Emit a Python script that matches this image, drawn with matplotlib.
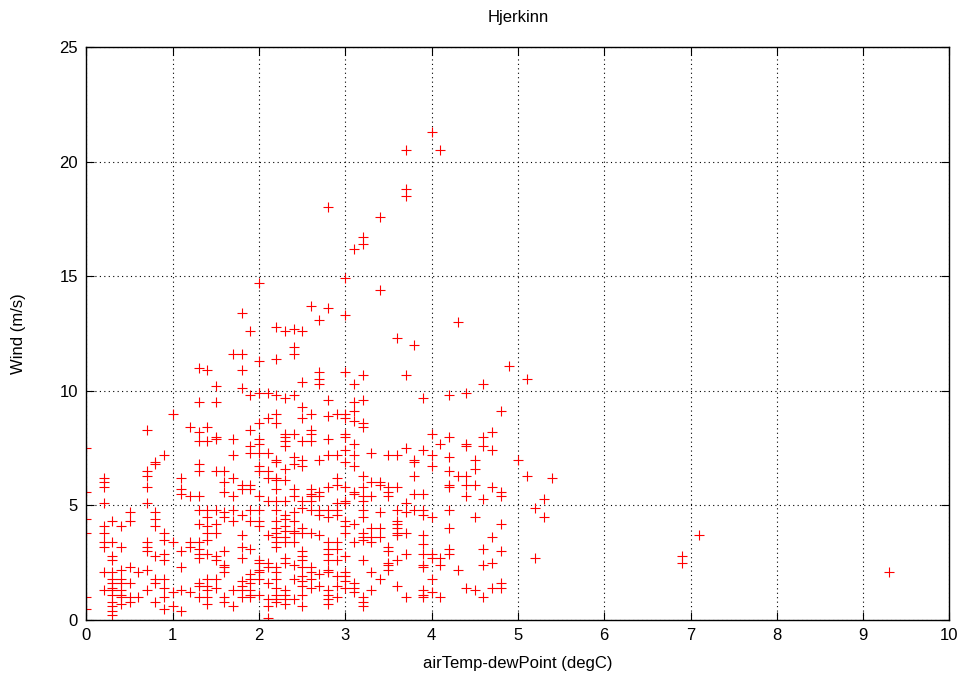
import matplotlib
matplotlib.use("Agg")
import matplotlib.pyplot as plt
import numpy as np

plt.rcParams['font.family'] = ['Liberation Sans', 'DejaVu Sans']

# x columns (airTemp-dewPoint, degC) and wind values (m/s) observed at each column
diff_cols = [0.0, 0.2, 0.3, 0.4, 0.5, 0.6, 0.7, 0.8, 0.9, 1.0,
             1.1, 1.2, 1.3, 1.4, 1.5, 1.6, 1.7, 1.8, 1.9, 2.0,
             2.1, 2.2, 2.3, 2.4, 2.5, 2.6, 2.7, 2.8, 2.9, 3.0,
             3.1, 3.2, 3.3, 3.4, 3.5, 3.6, 3.7, 3.8, 3.9, 4.0,
             4.1, 4.2, 4.3, 4.4, 4.5, 4.6, 4.7, 4.8, 4.9, 5.0,
             5.1, 5.2, 5.3, 5.4, 6.9, 7.1, 9.3]

wind_cols = [
    [7.5, 5.6, 4.4, 3.8, 1.0, 0.5],
    [6.2, 6.0, 5.8, 5.1, 4.1, 3.8, 3.4, 3.2, 2.1, 1.3],
    [4.3, 3.4, 2.8, 2.6, 2.1, 1.8, 1.6, 1.4, 1.3, 1.1, 0.8, 0.6, 0.4, 0.2],
    [4.1, 3.2, 2.2, 1.8, 1.6, 1.3, 1.1, 1.0, 0.7],
    [4.7, 4.3, 2.3, 1.6, 1.0, 0.8],
    [2.1, 1.0],
    [8.3, 6.5, 6.3, 5.8, 5.1, 3.4, 3.2, 3.0, 2.2, 1.3],
    [6.9, 6.8, 4.7, 4.4, 4.1, 2.8, 1.8, 1.6, 0.8],
    [7.2, 3.8, 3.5, 2.9, 2.6, 1.8, 1.4, 1.0, 0.5],
    [9.0, 3.4, 1.2, 0.6],
    [6.2, 5.7, 5.5, 3.0, 2.3, 1.3, 0.4],
    [8.4, 5.4, 3.4, 3.2, 1.2],
    [11.0, 9.5, 8.2, 7.8, 6.8, 6.5, 5.4, 4.8, 4.2, 3.4, 3.1, 2.9, 2.7, 1.6, 1.5, 1.0],
    [10.9, 8.4, 7.8, 4.8, 4.5, 4.1, 3.8, 3.5, 2.9, 1.8, 1.5, 1.3, 1.0, 0.7],
    [10.2, 9.5, 8.0, 7.9, 6.5, 4.8, 4.2, 3.8, 2.8, 2.6, 1.8, 1.4],
    [6.5, 6.0, 5.6, 4.7, 4.5, 3.0, 2.4, 2.3, 2.1, 1.0, 0.8],
    [11.6, 7.9, 7.2, 6.2, 5.4, 4.8, 4.3, 1.3, 0.6],
    [13.4, 11.6, 10.9, 10.1, 5.9, 5.7, 4.6, 3.7, 3.2, 2.7, 1.7, 1.5, 1.3, 1.0],
    [12.6, 9.8, 8.3, 7.6, 7.3, 5.9, 5.7, 4.8, 4.3, 3.1, 2.0, 1.8, 1.6, 1.3, 1.1, 1.0],
    [14.7, 11.3, 9.9, 8.6, 7.9, 7.7, 7.3, 6.7, 6.5, 5.4, 4.8, 4.3, 4.1, 2.6, 2.5, 2.2, 2.1, 1.8, 1.1],
    [9.9, 8.8, 7.3, 6.5, 6.2, 5.2, 3.7, 2.5, 2.3, 1.6, 0.9, 0.6, 0.1],
    [12.8, 11.4, 9.8, 9.0, 8.6, 7.0, 6.9, 6.2, 6.1, 5.7, 5.2, 4.8, 4.3, 4.0, 3.8, 3.6, 3.4, 3.2,
     2.3, 2.1, 1.8, 1.4, 1.1, 0.9, 0.8],
    [12.6, 9.7, 8.1, 8.0, 7.8, 7.6, 6.6, 6.1, 5.2, 4.6, 4.4, 4.1, 3.9, 3.6, 3.4, 2.7, 2.5, 1.3,
     1.1, 0.9, 0.7],
    [12.7, 11.9, 11.6, 9.8, 8.1, 7.1, 6.8, 5.7, 5.4, 4.7, 4.3, 3.9, 3.8, 3.4, 2.4, 1.8, 0.9],
    [12.6, 10.4, 9.3, 8.8, 7.8, 7.0, 6.7, 5.2, 4.9, 4.0, 3.8, 3.0, 2.8, 2.6, 2.3, 1.9, 1.7, 1.5,
     1.1, 0.6],
    [13.7, 9.0, 8.3, 8.1, 7.8, 5.7, 5.5, 5.4, 5.2, 4.8, 3.8, 2.3, 2.1, 1.8, 1.4],
    [13.1, 10.8, 10.5, 10.3, 7.0, 5.6, 5.4, 4.8, 4.6, 3.7, 2.0, 1.5],
    [18.0, 13.6, 9.6, 8.9, 7.9, 7.2, 5.8, 4.8, 4.5, 3.4, 3.1, 2.9, 2.6, 2.2, 2.1, 1.3, 1.1, 0.9, 0.7],
    [9.0, 7.2, 6.2, 5.9, 5.1, 4.8, 4.6, 3.4, 3.1, 2.6, 1.9, 1.5, 1.0],
    [14.9, 13.3, 10.8, 9.0, 8.8, 8.1, 8.0, 7.4, 6.9, 5.8, 5.2, 5.1, 4.3, 4.1, 3.8, 2.8, 2.1, 1.9,
     1.7, 1.4],
    [16.2, 10.3, 9.5, 9.1, 8.7, 7.7, 7.2, 6.7, 5.6, 5.5, 4.2, 3.4, 1.6, 1.4, 1.2],
    [16.7, 16.4, 10.7, 9.6, 8.6, 8.4, 6.3, 5.8, 5.4, 5.2, 4.8, 4.5, 3.8, 3.6, 3.5, 2.6, 1.0, 0.8, 0.6],
    [7.3, 6.0, 5.4, 4.0, 3.6, 3.4, 2.1, 1.3],
    [17.6, 14.4, 6.0, 5.9, 4.7, 4.0, 3.6, 1.8],
    [7.2, 5.8, 5.6, 5.4, 3.2, 3.0, 2.5, 2.4, 2.2],
    [12.3, 7.2, 5.8, 4.8, 4.3, 4.2, 4.0, 3.8, 3.7, 2.6, 1.5],
    [20.5, 18.8, 18.5, 10.7, 7.5, 5.1, 4.7, 3.8, 2.9, 1.0],
    [12.0, 7.0, 6.9, 6.3, 5.5, 4.8],
    [9.7, 7.4, 5.5, 4.8, 4.6, 3.7, 3.3, 2.9, 2.4, 2.3, 1.3, 1.1, 1.0],
    [21.3, 8.1, 7.2, 6.7, 4.5, 2.9, 2.7, 1.8, 1.2],
    [20.5, 7.7, 2.7, 2.4, 1.0],
    [9.8, 8.0, 7.1, 6.5, 5.9, 5.8, 4.8, 4.0, 3.1, 2.9],
    [13.0, 6.3, 2.2],
    [9.9, 7.7, 7.6, 6.3, 5.9, 5.4, 1.4],
    [7.0, 6.6, 5.9, 4.5, 1.3],
    [10.3, 8.0, 7.6, 5.3, 3.1, 2.4, 1.0],
    [8.2, 7.4, 5.8, 3.6, 2.5, 1.4],
    [9.1, 5.6, 5.4, 4.2, 3.0, 1.6, 1.4],
    [11.1],
    [7.0],
    [10.5, 6.3],
    [4.9, 2.7],
    [5.3, 4.5],
    [6.2],
    [2.8, 2.5],
    [3.7],
    [2.1],
]

x_ticks = [0, 1, 2, 3, 4, 5, 6, 7, 8, 9, 10]
y_ticks = [0, 5, 10, 15, 20, 25]

diff = np.concatenate([[c] * len(w) for c, w in zip(diff_cols, wind_cols)])
wind = np.concatenate(wind_cols)

fig = plt.figure(figsize=(9.66, 6.81), dpi=100)
ax = fig.add_axes([0.0894, 0.0896, 0.8935, 0.8414])

ax.plot(diff, wind, linestyle='none', marker='+', color='#ff0000',
        markersize=6.5, markeredgewidth=0.8)

ax.set_xlim(0, 10)
ax.set_ylim(0, 25)
ax.set_xticks(x_ticks)
ax.set_yticks(y_ticks)
ax.grid(True, color='black', linestyle=(0, (1, 3)), linewidth=0.8)
ax.set_axisbelow(True)
ax.tick_params(direction='in', length=6, width=0.8, top=True, right=True,
               labelsize=12, pad=6)
for s in ax.spines.values():
    s.set_linewidth(1.0)

ax.set_title('Hjerkinn', fontsize=12, pad=18)
ax.set_xlabel('airTemp-dewPoint (degC)', fontsize=12, labelpad=9)
ax.set_ylabel('Wind (m/s)', fontsize=12, labelpad=24)

fig.savefig('out.png', dpi=100)
